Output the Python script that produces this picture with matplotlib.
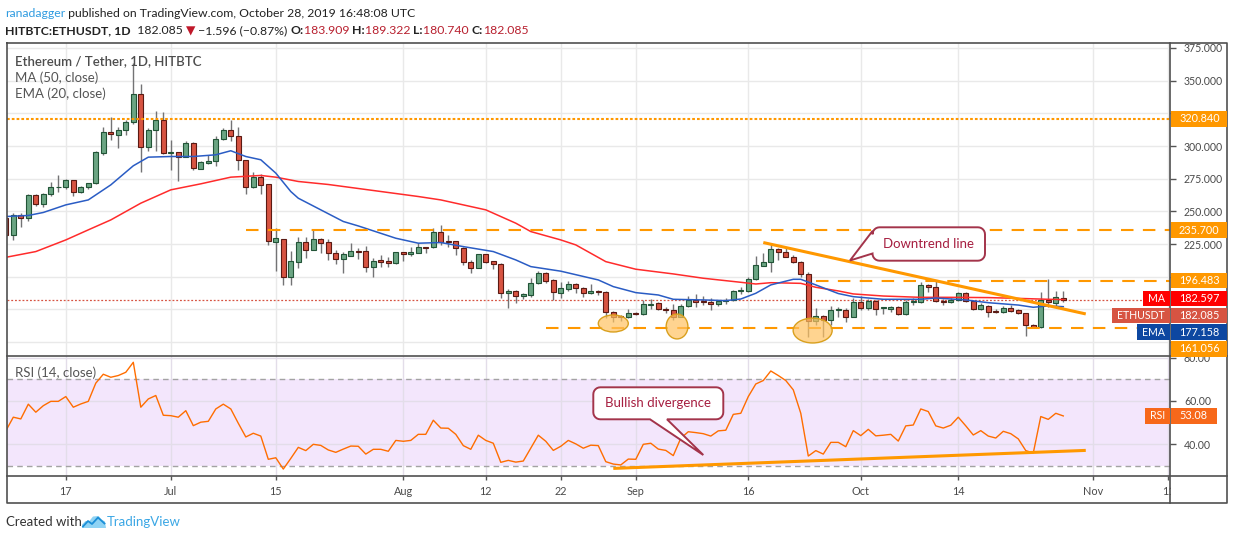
import matplotlib
matplotlib.use("Agg")
import matplotlib.pyplot as plt
import matplotlib.dates as mdates
from matplotlib.patches import Rectangle, Ellipse, Polygon
from matplotlib.lines import Line2D
from matplotlib.text import Annotation
import numpy as np
import pandas as pd

W, H = 1234, 540
plt.rcParams['font.family'] = ['Lato', 'DejaVu Sans']

# ---------------- data ----------------
dates = pd.date_range('2019-06-09', '2019-10-28', freq='D')

opens = [245.0, 232.0, 246.9, 244.8, 262.7, 255.5, 263.2, 268.5, 268.3, 273.9,
         264.7, 268.3, 271.6, 294.3, 310.7, 308.4, 312.2, 318.3, 340.0, 298.9,
         312.5, 320.1, 294.3, 295.3, 292.0, 302.2, 282.8, 287.4, 288.7, 305.6,
         312.0, 307.3, 289.0, 269.0, 276.0, 271.1, 226.4, 228.7, 199.6, 211.6,
         226.4, 220.8, 228.7, 226.4, 218.0, 213.4, 216.2, 220.0, 219.8, 207.8,
         212.9, 212.1, 210.3, 219.0, 217.2, 218.5, 222.6, 222.6, 234.1, 227.2,
         227.2, 221.8, 211.1, 207.0, 217.2, 211.9, 209.6, 187.4, 189.2, 185.6,
         186.3, 195.0, 202.7, 197.6, 187.9, 190.9, 194.3, 191.2, 187.4, 189.4,
         188.1, 173.3, 170.0, 169.0, 172.1, 171.3, 178.7, 179.7, 175.6, 174.4,
         169.5, 177.9, 182.3, 181.8, 180.5, 178.9, 181.5, 182.3, 189.2, 189.4,
         198.1, 208.6, 211.1, 221.0, 218.8, 215.4, 211.6, 202.2, 166.4, 170.3,
         166.6, 174.6, 174.6, 169.5, 181.0, 176.4, 181.5, 175.9, 175.6, 176.6,
         171.3, 181.0, 181.0, 193.8, 192.0, 181.8, 180.5, 182.3, 187.4, 181.5,
         175.1, 177.7, 174.1, 173.1, 176.1, 174.6, 172.1, 162.8, 161.3, 182.3,
         179.7, 183.909]
highs = [248.0, 248.6, 248.6, 263.4, 263.4, 264.0, 272.4, 278.0, 274.9, 274.2,
         269.8, 272.1, 296.1, 314.5, 322.1, 314.2, 320.1, 363.5, 347.7, 313.7,
         327.0, 325.7, 304.8, 295.3, 303.5, 303.0, 288.7, 292.8, 307.3, 313.7,
         320.1, 314.5, 289.0, 280.0, 278.3, 271.1, 237.7, 228.7, 219.8, 230.8,
         230.8, 235.9, 230.0, 228.7, 220.5, 219.3, 226.2, 221.8, 223.6, 214.2,
         216.7, 214.9, 219.3, 219.3, 222.6, 226.2, 223.1, 237.1, 239.7, 232.0,
         227.7, 223.1, 212.9, 217.5, 217.5, 212.4, 210.3, 190.4, 189.9, 187.9,
         198.9, 204.7, 204.0, 198.1, 196.3, 196.8, 195.0, 192.0, 194.5, 189.9,
         189.2, 173.8, 170.8, 175.4, 172.8, 182.3, 183.0, 180.5, 177.2, 178.9,
         178.9, 185.3, 186.6, 185.3, 183.6, 181.8, 183.6, 189.9, 192.0, 200.1,
         216.0, 218.5, 225.6, 221.8, 221.8, 216.7, 212.1, 204.0, 175.9, 170.8,
         177.7, 176.7, 175.9, 183.5, 185.3, 182.8, 182.3, 176.7, 177.7, 177.7,
         182.3, 183.5, 196.3, 194.5, 197.6, 182.8, 183.5, 188.6, 188.6, 182.3,
         179.7, 178.5, 175.1, 177.7, 178.5, 175.1, 172.6, 163.6, 188.6, 198.1,
         189.2, 189.322]
lows = [230.5, 228.2, 237.9, 243.0, 254.5, 253.7, 261.9, 264.5, 267.5, 261.9,
        264.0, 267.3, 271.1, 293.0, 304.8, 298.2, 308.1, 316.8, 280.5, 296.4,
        295.9, 293.8, 281.8, 273.6, 291.5, 281.8, 282.3, 286.4, 285.1, 304.8,
        304.0, 281.8, 263.7, 268.0, 263.4, 224.4, 204.7, 193.8, 193.8, 207.0,
        214.2, 220.8, 218.5, 212.9, 209.8, 203.2, 216.0, 213.7, 204.0, 200.1,
        207.8, 207.8, 209.8, 212.4, 216.2, 218.0, 218.5, 221.8, 224.4, 222.6,
        216.7, 209.1, 203.2, 207.0, 210.3, 205.7, 184.0, 175.9, 179.7, 182.8,
        184.8, 194.5, 195.5, 182.3, 184.0, 189.4, 187.4, 184.3, 186.6, 185.8,
        168.2, 165.2, 166.4, 168.2, 170.8, 170.8, 175.4, 174.6, 172.1, 167.0,
        169.5, 177.2, 177.2, 178.4, 174.6, 177.9, 178.9, 181.8, 186.9, 188.6,
        197.6, 208.6, 204.0, 212.9, 214.9, 210.3, 200.1, 153.7, 163.1, 154.2,
        163.1, 169.0, 165.7, 169.0, 174.6, 174.6, 170.8, 171.6, 173.3, 170.8,
        170.8, 178.4, 180.2, 188.6, 181.0, 178.4, 179.7, 181.8, 181.0, 174.6,
        174.6, 169.5, 172.6, 172.1, 173.3, 171.3, 155.0, 160.8, 160.6, 176.6,
        177.7, 180.740]
closes = [232.0, 246.9, 244.8, 262.7, 255.5, 263.4, 268.5, 269.0, 274.2, 264.7,
          268.8, 271.6, 295.3, 310.7, 309.1, 312.5, 318.6, 340.0, 298.9, 312.5,
          320.1, 294.3, 295.1, 291.5, 302.2, 283.1, 287.7, 288.7, 305.6, 312.0,
          307.3, 289.0, 269.0, 276.0, 270.0, 227.0, 229.5, 199.6, 212.1, 226.4,
          220.8, 228.7, 225.7, 218.0, 213.4, 217.5, 219.8, 219.3, 207.8, 212.1,
          211.6, 210.3, 219.0, 217.2, 219.0, 222.6, 222.3, 234.1, 226.9, 226.4,
          221.8, 211.1, 207.0, 217.2, 211.6, 209.6, 187.4, 189.2, 185.6, 186.6,
          195.0, 202.7, 197.1, 188.1, 191.2, 194.3, 191.2, 187.4, 189.2, 188.1,
          173.3, 169.5, 169.0, 172.1, 171.3, 179.0, 179.2, 175.1, 174.4, 169.5,
          177.9, 182.3, 181.0, 180.5, 178.9, 181.2, 181.8, 189.2, 189.9, 198.1,
          209.1, 211.4, 221.0, 218.8, 215.4, 211.6, 202.2, 166.4, 170.3, 166.6,
          174.6, 175.1, 169.5, 181.0, 176.4, 181.5, 175.1, 176.6, 176.6, 171.3,
          181.0, 181.5, 193.8, 192.0, 181.5, 180.7, 182.3, 187.4, 181.5, 175.1,
          178.2, 173.1, 173.1, 176.1, 174.1, 172.1, 163.1, 161.3, 182.3, 180.5,
          184.3, 182.085]
rsi = [46.2, 52.5, 51.7, 58.5, 54.8, 57.8, 59.8, 59.8, 62.0, 57.1,
       58.6, 59.8, 68.2, 72.3, 70.9, 71.7, 73.2, 77.8, 57.1, 60.9,
       62.5, 53.4, 53.2, 52.5, 55.5, 48.6, 50.2, 50.6, 56.3, 58.5,
       56.3, 49.7, 43.4, 45.1, 43.8, 33.1, 33.8, 28.6, 33.5, 38.6,
       37.1, 40.0, 39.5, 37.4, 36.3, 37.8, 39.2, 39.1, 35.5, 37.7,
       37.7, 36.8, 41.8, 41.4, 41.8, 44.6, 44.6, 51.1, 47.5, 47.4,
       44.6, 39.4, 37.7, 44.2, 41.8, 40.5, 31.7, 32.6, 31.8, 32.3,
       38.2, 44.2, 41.4, 37.2, 39.1, 41.8, 40.2, 38.2, 39.6, 39.4,
       32.0, 30.9, 30.5, 33.2, 33.1, 40.0, 40.5, 37.8, 37.2, 34.8,
       42.8, 45.8, 45.4, 44.9, 43.8, 46.2, 46.5, 53.8, 54.3, 62.0,
       67.8, 69.4, 73.8, 71.7, 69.4, 65.1, 54.3, 34.6, 37.1, 35.5,
       40.9, 40.9, 38.9, 46.3, 44.0, 46.9, 43.9, 44.2, 44.6, 41.5,
       48.5, 48.9, 56.3, 55.1, 48.5, 47.5, 48.8, 52.5, 48.5, 44.3,
       46.3, 43.8, 42.9, 46.0, 44.9, 42.5, 37.1, 36.0, 52.8, 51.5,
       54.3, 53.08]

ma_dates = ['2019-06-09', '2019-06-13', '2019-06-17', '2019-06-20', '2019-06-23',
            '2019-06-27', '2019-07-01', '2019-07-05', '2019-07-09', '2019-07-13',
            '2019-07-15', '2019-07-18', '2019-07-22', '2019-07-28', '2019-08-03',
            '2019-08-06', '2019-08-09', '2019-08-12', '2019-08-16', '2019-08-18',
            '2019-08-22', '2019-08-24', '2019-08-28', '2019-09-01', '2019-09-06',
            '2019-09-10', '2019-09-15', '2019-09-17', '2019-09-19', '2019-09-23',
            '2019-09-25', '2019-09-28', '2019-09-30', '2019-10-04', '2019-10-09',
            '2019-10-13', '2019-10-18', '2019-10-22', '2019-10-26', '2019-10-28']
ma_vals = [214.9, 219.3, 228.2, 235.9, 243.5, 256.3, 266.5, 271.1, 276.2, 277.5,
           276.2, 272.9, 270.6, 266.0, 261.4, 258.8, 255.0, 251.2, 241.0, 234.6,
           228.2, 224.4, 211.6, 205.8, 202.2, 198.9, 195.8, 194.5, 195.5, 195.0,
           192.0, 189.2, 186.9, 185.3, 184.3, 184.3, 184.1, 183.5, 182.8, 182.597]

ema_dates = ['2019-06-09', '2019-06-12', '2019-06-14', '2019-06-17', '2019-06-20',
             '2019-06-23', '2019-06-26', '2019-06-28', '2019-07-01', '2019-07-04',
             '2019-07-07', '2019-07-09', '2019-07-11', '2019-07-13', '2019-07-15',
             '2019-07-17', '2019-07-18', '2019-07-24', '2019-07-26', '2019-07-31',
             '2019-08-03', '2019-08-06', '2019-08-09', '2019-08-13', '2019-08-16',
             '2019-08-18', '2019-08-22', '2019-08-27', '2019-08-29', '2019-09-01',
             '2019-09-04', '2019-09-06', '2019-09-10', '2019-09-13', '2019-09-15',
             '2019-09-17', '2019-09-19', '2019-09-22', '2019-09-23', '2019-09-25',
             '2019-09-28', '2019-09-30', '2019-10-04', '2019-10-09', '2019-10-11',
             '2019-10-15', '2019-10-18', '2019-10-22', '2019-10-24', '2019-10-26',
             '2019-10-28']
ema_vals = [246.1, 246.9, 249.2, 255.0, 258.8, 270.3, 284.9, 291.5, 292.0, 292.0,
            293.3, 296.4, 292.0, 289.5, 279.3, 265.2, 260.1, 242.3, 238.9, 229.5,
            225.7, 226.2, 223.1, 219.3, 212.9, 207.8, 204.3, 197.6, 192.5, 187.9,
            186.1, 182.8, 182.3, 181.8, 183.0, 187.4, 193.8, 198.1, 198.1, 193.8,
            187.2, 184.8, 182.8, 182.8, 183.8, 182.3, 180.2, 178.4, 176.7, 177.7,
            177.158]

price_ticks = [150, 175, 200, 225, 250, 275, 300, 325, 350, 375]
rsi_ticks = [40, 60, 80]
tick_dates = ['2019-06-17', '2019-07-01', '2019-07-15', '2019-08-01', '2019-08-12',
              '2019-08-22', '2019-09-01', '2019-09-16', '2019-10-01', '2019-10-14',
              '2019-11-01', '2019-11-11']
tick_labels = ['17', 'Jul', '15', 'Aug', '12', '22', 'Sep', '16', 'Oct', '14', 'Nov', '11']

levels = [320.840, 235.700, 196.483, 161.056]
level_starts = [None, '2019-07-11', '2019-09-25', '2019-08-20']

trend_dates = ['2019-09-18', '2019-10-31']
trend_vals = [226.2, 171.6]
rsi_trend_dates = ['2019-08-29', '2019-10-31']
rsi_trend_vals = [28.9, 37.2]

ellipse_dates = ['2019-08-29 00:00', '2019-09-06 12:00', '2019-09-24 14:00']
ellipse_prices = [164.3, 162.0, 158.9]
ellipse_w = [4.0, 2.9, 5.2]
ellipse_h = [13.0, 19.0, 19.0]

# ---------------- figure ----------------
UP, DOWN = '#6ba583', '#d75442'
ORANGE = '#ff9800'
GRID = '#e9e9e9'
TXT = '#4a4a4a'


def fig_xy(px, py):
    return px / W, 1 - py / H


fig = plt.figure(figsize=(W / 100, H / 100), dpi=100)
fig.patch.set_facecolor('white')
ax = fig.add_axes([7 / W, 1 - 355 / H, 1163 / W, 312 / H])
ax2 = fig.add_axes([7 / W, 1 - 476 / H, 1163 / W, 120 / H], sharex=ax)

x = mdates.date2num(dates)
x0 = mdates.date2num(pd.Timestamp('2019-06-10'))
ax.set_xlim(x0 - 0.84, x0 + 154.23)
ax.set_ylim(140.2, 378.8)
ax2.set_ylim(25.4, 80.7)

o, h, l, c = map(np.array, (opens, highs, lows, closes))
up = c >= o
lo = np.minimum(o, c)
bh = np.maximum(np.abs(c - o), 0.45)
ax.vlines(x, l, h, color='#737375', lw=1, zorder=3)
ax.bar(x[up], bh[up], bottom=lo[up], width=0.64, color=UP, edgecolor='#225437', lw=0.8, zorder=4)
ax.bar(x[~up], bh[~up], bottom=lo[~up], width=0.64, color=DOWN, edgecolor='#5b1a13', lw=0.8, zorder=4)

ax.plot(mdates.date2num(pd.to_datetime(ma_dates)), ma_vals, color='#ff2b2b', lw=1.1, zorder=5)
ax.plot(mdates.date2num(pd.to_datetime(ema_dates)), ema_vals, color='#2a5cc4', lw=1.1, zorder=5)

xmax = ax.get_xlim()[1]
for lvl, st in zip(levels, level_starts):
    xs = ax.get_xlim()[0] if st is None else mdates.date2num(pd.Timestamp(st))
    ls = (0, (1.3, 1.0)) if st is None else (0, (6, 4.5))
    ax.hlines(lvl, xs, xmax, color=ORANGE, lw=1.5, linestyles=[ls], zorder=6)

ax.axhline(closes[-1], color=DOWN, lw=0.9, ls=(0, (1.5, 1.5)), zorder=2.5)
ax.plot(mdates.date2num(pd.to_datetime(trend_dates)), trend_vals, color=ORANGE, lw=2.2,
        solid_capstyle='butt', zorder=6)

for d, p, ew, eh in zip(ellipse_dates, ellipse_prices, ellipse_w, ellipse_h):
    ax.add_patch(Ellipse((mdates.date2num(pd.Timestamp(d)), p), ew, eh,
                         facecolor=(1.0, 0.76, 0.38, 0.7), edgecolor='#d9a01e', lw=1, zorder=7))

# RSI pane
ax2.axhspan(30, 70, facecolor='#f3e6fc', lw=0, zorder=0)
for v in (70, 30):
    ax2.axhline(v, color='#a3a3a3', lw=1, ls=(0, (4, 3)), zorder=1)
ax2.plot(x, rsi, color='#ff6d00', lw=1, zorder=4)
ax2.plot(mdates.date2num(pd.to_datetime(rsi_trend_dates)), rsi_trend_vals, color=ORANGE,
         lw=2.2, solid_capstyle='butt', zorder=5)


def ypx(a, v):
    return H - a.transData.transform((x0, v))[1]


# where the coloured value boxes sit on the price scale (pixels from top)
y_ma = ypx(ax, ma_vals[-1]) - 1
box_rows = [ypx(ax, levels[0]), ypx(ax, levels[1]), ypx(ax, levels[2]) - 1,
            y_ma, y_ma + 16.8, y_ma + 33.6, y_ma + 50.3]


def price_label(v, pos):
    # a box drawn over the scale hides the tick label under it
    if any(abs(ypx(ax, v) - yb) < 12 for yb in box_rows):
        return ''
    return f'{v:.3f}'


# axes cosmetics
for a in (ax, ax2):
    for s in a.spines.values():
        s.set_visible(False)
    a.set_axisbelow(True)
    a.yaxis.tick_right()
ax.set_yticks(price_ticks)
ax.yaxis.set_major_formatter(price_label)
ax2.set_yticks(rsi_ticks)
ax2.yaxis.set_major_formatter(lambda v, p: f'{v:.2f}')
ax.set_xticks(mdates.date2num(pd.to_datetime(tick_dates)))
ax2.set_xticklabels(tick_labels)
ax.grid(True, color=GRID, lw=1)
ax2.grid(True, color='#e3dde9', lw=1)
ax.tick_params(axis='x', length=0, labelbottom=False)
for a in (ax, ax2):
    a.tick_params(axis='y', length=4, width=1, color='#555555', pad=6,
                  labelsize=7.6, labelcolor=TXT)
ax2.tick_params(axis='x', length=3, width=1, color='#555555', pad=4,
                labelsize=7.8, labelcolor=TXT)
ax.set_ylim(140.2, 378.8)
ax2.set_ylim(25.4, 80.7)


# frame lines
def fline(xs, ys, lw=1.2, color='#505050'):
    fig.add_artist(Line2D([v / W for v in xs], [1 - v / H for v in ys], color=color,
                          lw=lw, transform=fig.transFigure, zorder=8))


fline([7, 1227, 1227, 7, 7], [43, 43, 503, 503, 43])
fline([7, 1227], [355.5, 355.5])
fline([7, 1227], [476, 476])
fline([1170, 1170], [43, 503])
# hide the clipped part of the last date label
fig.add_artist(Rectangle(fig_xy(1170.6, 502.4), 56 / W, 25 / H, transform=fig.transFigure,
                         facecolor='white', edgecolor='none', zorder=7))


# ---------------- right-axis value boxes ----------------
def axis_box(yc, text, color, name=None, name_left=None, right=1226.5, bh=15.6):
    fig.add_artist(Rectangle(fig_xy(1170.8, yc + bh / 2), (right - 1170.8) / W, bh / H,
                             transform=fig.transFigure, facecolor=color, edgecolor='none', zorder=9))
    fig.text(*fig_xy(1179, yc), text, color='white', fontsize=7.8, va='center', ha='left', zorder=10)
    if name:
        fig.add_artist(Rectangle(fig_xy(name_left, yc + bh / 2), (1169.6 - name_left) / W, bh / H,
                                 transform=fig.transFigure, facecolor=color, edgecolor='none', zorder=9))
        fig.text(*fig_xy((name_left + 1169.6) / 2, yc), name, color='white', fontsize=7.6,
                 va='center', ha='center', zorder=10)


axis_box(box_rows[0], f'{levels[0]:.3f}', ORANGE)
axis_box(box_rows[1], f'{levels[1]:.3f}', ORANGE)
axis_box(box_rows[2], f'{levels[2]:.3f}', ORANGE)
axis_box(box_rows[3], f'{ma_vals[-1]:.3f}', '#ff0000', 'MA', 1143)
axis_box(box_rows[4], f'{closes[-1]:.3f}', DOWN, 'ETHUSDT', 1112)
axis_box(box_rows[5], f'{ema_vals[-1]:.3f}', '#0d47a1', 'EMA', 1137)
axis_box(box_rows[6], f'{levels[3]:.3f}', ORANGE)
axis_box(ypx(ax2, rsi[-1]), f'{rsi[-1]:.2f}', '#f7681a', 'RSI', 1145, right=1217)


# ---------------- callouts ----------------
def round_rect(x0_, y0_, x1_, y1_, r, n=7):
    pts = []
    for cx, cy, a0, a1 in [(x1_ - r, y0_ + r, -90, 0), (x1_ - r, y1_ - r, 0, 90),
                           (x0_ + r, y1_ - r, 90, 180), (x0_ + r, y0_ + r, 180, 270)]:
        for a in np.radians(np.linspace(a0, a1, n)):
            pts.append((cx + r * np.cos(a), cy + r * np.sin(a)))
    return pts


def callout(box, tail, insert_at, text, n=7):
    pts = round_rect(*box, 7, n)
    k = insert_at * n
    pts = pts[:k] + tail + pts[k:]
    fig.add_artist(Polygon([fig_xy(px, py) for px, py in pts], closed=True, transform=fig.transFigure,
                           facecolor='white', edgecolor='#a3344b', lw=1.4, zorder=9))
    fig.text(*fig_xy((box[0] + box[2]) / 2, (box[1] + box[3]) / 2), text, color='#a61e40',
             fontsize=9.5, ha='center', va='center', zorder=10)


callout((872.5, 227.3, 985, 260.7), [(872.5, 253.5), (850, 260.5), (872.5, 231)], 3, 'Downtrend line')
callout((593.3, 387.3, 723.3, 419.3), [(667, 419.3), (703.3, 455), (650, 419.3)], 2, 'Bullish divergence')

# ---------------- texts ----------------
fig.text(*fig_xy(15, 60.7), 'Ethereum / Tether, 1D, HITBTC', color='#4d4d4d', fontsize=9.5,
         fontweight='semibold', va='center')
fig.text(*fig_xy(15, 77.3), 'MA (50, close)', color='#555555', fontsize=9.5, va='center')
fig.text(*fig_xy(15, 94), 'EMA (20, close)', color='#555555', fontsize=9.5, va='center')
fig.text(*fig_xy(15, 372.3), 'RSI (14, close)', color='#555555', fontsize=9.5, va='center')


def text_chain(px, py, parts, size):
    t = fig.text(*fig_xy(px, py), parts[0][0], color=parts[0][1], fontweight=parts[0][2],
                 fontsize=size, va='center')
    for s, col, wt in parts[1:]:
        a = Annotation(s, xy=(1, 0), xycoords=t, va='bottom', ha='left', color=col,
                       fontweight=wt, fontsize=size)
        fig.add_artist(a)
        t = a


RED = '#b8202f'
DARK = '#222222'
text_chain(5, 13.3, [('ranadagger', '#2f9be0', 'normal'),
                     (' published on TradingView.com, October 28, 2019 16:48:08 UTC', DARK, 'normal')], 8.8)
text_chain(5, 30.7, [('HITBTC:ETHUSDT, 1D', DARK, 'bold'), ('  182.085 ', DARK, 'normal'),
                     ('\u25bc', '#c0182a', 'normal'), (' \u22121.596 (\u22120.87%) ', DARK, 'normal'),
                     ('O:', DARK, 'bold'), (f'{opens[-1]:.3f} ', RED, 'normal'),
                     ('H:', DARK, 'bold'), (f'{highs[-1]:.3f} ', RED, 'normal'),
                     ('L:', DARK, 'bold'), (f'{lows[-1]:.3f} ', RED, 'normal'),
                     ('C:', DARK, 'bold'), (f'{closes[-1]:.3f}', RED, 'normal')], 8.8)

# footer
fig.text(*fig_xy(6.5, 522), 'Created with', color='#333333', fontsize=9.5, va='center')
cloud = [(82, 528), (82, 524.5), (85.5, 521), (89, 521.5), (93, 516.5), (98.5, 516),
         (101.5, 519.5), (105, 521.5), (106, 528)]
fig.add_artist(Polygon([fig_xy(*p) for p in cloud], closed=True, transform=fig.transFigure,
                       facecolor='#8fd3f4', edgecolor='none'))
fig.add_artist(Line2D([v / W for v in (83, 88, 92, 98, 104.5)],
                      [1 - v / H for v in (526.5, 521, 524, 517.5, 523.5)],
                      color='#1b8fd8', lw=1.3, transform=fig.transFigure))
fig.text(*fig_xy(106.5, 522), 'TradingView', color='#3ba7e5', fontsize=9.5, va='center')

fig.savefig('out.png', dpi=100, facecolor='white')
